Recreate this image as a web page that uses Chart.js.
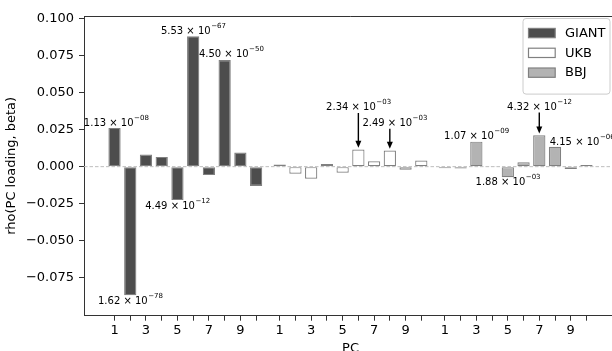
<!DOCTYPE html>
<html>
<head>
<meta charset="utf-8">
<script src="https://cdn.jsdelivr.net/npm/chart.js@4.4.1/dist/chart.umd.min.js"></script>
<style>
  html, body { margin: 0; padding: 0; background: #fff; overflow: hidden; }
  #wrap { width: 612px; height: 351px; overflow: hidden; position: relative; }
  #mycanvas { position: absolute; left: 0; top: 0; }
</style>
</head>
<body>
<div id="wrap"><canvas id="mycanvas" width="640" height="370"></canvas></div>
<script>
var groups = ['GIANT', 'UKB', 'BBJ'];
var pcs = [1, 2, 3, 4, 5, 6, 7, 8, 9, 10];
var pcTickLabels = ['1', '', '3', '', '5', '', '7', '', '9', ''];
var giantRho = [0.0262, -0.0868, 0.0082, 0.0066, -0.0226, 0.0882, -0.0057, 0.0720, 0.0095, -0.0130];
var ukbRho   = [0.0015, -0.0048, -0.0082, 0.0018, -0.0041, 0.0116, 0.0037, 0.0109, -0.0021, 0.0042];
var bbjRho   = [-0.0010, -0.0013, 0.0169, 0.0005, -0.0072, 0.0030, 0.0212, 0.0135, -0.0016, 0.0011];
var yTicks = [-0.075, -0.05, -0.025, 0, 0.025, 0.05, 0.075, 0.1];
var yRange = [-0.1007, 0.1018];
var xRange = [-1.94, 31.94];
var groupGap = 1.5;

// p-values written next to bars: group, PC, mantissa, exponent
var pLabels = [
  ['GIANT', 1, '1.13', '−08'],
  ['GIANT', 2, '1.62', '−78'],
  ['GIANT', 5, '4.49', '−12'],
  ['GIANT', 6, '5.53', '−67'],
  ['GIANT', 8, '4.50', '−50'],
  ['UKB', 6, '2.34', '−03'],
  ['UKB', 8, '2.49', '−03'],
  ['BBJ', 3, '1.07', '−09'],
  ['BBJ', 5, '1.88', '−03'],
  ['BBJ', 7, '4.32', '−12'],
  ['BBJ', 8, '4.15', '−06']
];
// where each label sits relative to its bar end (px)
var pLabelPos = [
  {dx: 1.6, dy: -1.8},
  {dx: 0, dy: 9},
  {dx: 0, dy: 8.4},
  {dx: 0, dy: -2},
  {dx: 6.5, dy: -3.3},
  {dx: 0, dy: -39, arrow: true},
  {dx: 4.8, dy: -24.3, arrow: true},
  {dx: 0, dy: -2.4},
  {dx: 0, dy: 7.7},
  {dx: 0, dy: -25.3, arrow: true},
  {dx: -5.3, dy: -1.7, left: true}
];

var rhoByGroup = [giantRho, ukbRho, bbjRho];
var fills = ['#4d4d4d', '#ffffff', '#b3b3b3'];

// bar position on the x scale: groups are separated by a wider gap
function xPos(g, i) {
  return g * (pcs.length - 1 + groupGap) + i;
}

var tickValues = [];
groups.forEach(function(g, gi) {
  pcs.forEach(function(pc, i) { tickValues.push(xPos(gi, i)); });
});

var datasets = groups.map(function(name, gi) {
  return {
    label: name,
    data: rhoByGroup[gi].map(function(v, i) { return {x: xPos(gi, i), y: v}; }),
    backgroundColor: fills[gi],
    borderColor: '#808080',
    borderWidth: 1.2,
    borderSkipped: false,
    grouped: false,
    barPercentage: 0.78,
    categoryPercentage: 1
  };
});

function drawP(ctx, x, baseline, mant, expo, left) {
  var main = mant + ' × 10';
  ctx.font = '10px "DejaVu Sans"';
  var w1 = ctx.measureText(main).width;
  ctx.font = '7px "DejaVu Sans"';
  var w2 = ctx.measureText(expo).width;
  var x0 = left ? x : x - (w1 + w2) / 2;
  ctx.fillStyle = '#000';
  ctx.textAlign = 'left';
  ctx.textBaseline = 'alphabetic';
  ctx.font = '10px "DejaVu Sans"';
  ctx.fillText(main, x0, baseline);
  ctx.font = '7px "DejaVu Sans"';
  ctx.fillText(expo, x0 + w1 + 0.5, baseline - 6);
}

function drawArrow(ctx, x, y0, y1) {
  ctx.strokeStyle = '#000';
  ctx.fillStyle = '#000';
  ctx.lineWidth = 1.4;
  ctx.beginPath();
  ctx.moveTo(x, y0);
  ctx.lineTo(x, y1 - 6);
  ctx.stroke();
  ctx.beginPath();
  ctx.moveTo(x - 3, y1 - 7);
  ctx.lineTo(x + 3, y1 - 7);
  ctx.lineTo(x, y1);
  ctx.closePath();
  ctx.fill();
}

var extras = {
  id: 'extras',
  afterDatasetsDraw: function(chart) {
    var ctx = chart.ctx, ca = chart.chartArea;
    var y0 = chart.scales.y.getPixelForValue(0);
    ctx.save();
    // zero line
    ctx.strokeStyle = '#bdbdbd';
    ctx.lineWidth = 1;
    ctx.setLineDash([3.5, 2]);
    ctx.beginPath();
    ctx.moveTo(ca.left, y0);
    ctx.lineTo(ca.right, y0);
    ctx.stroke();
    ctx.setLineDash([]);

    // p-value labels
    pLabels.forEach(function(p, k) {
      var pos = pLabelPos[k];
      var bar = chart.getDatasetMeta(groups.indexOf(p[0])).data[p[1] - 1];
      var baseline = bar.y + pos.dy;
      drawP(ctx, bar.x + pos.dx, baseline, p[2], p[3], pos.left);
      if (pos.arrow) drawArrow(ctx, bar.x, baseline + 2.5, bar.y - 1.7);
    });

    // top / right spines
    ctx.strokeStyle = '#333';
    ctx.lineWidth = 1;
    ctx.beginPath();
    ctx.moveTo(ca.left, ca.top + 0.5);
    ctx.lineTo(ca.right + 0.5, ca.top + 0.5);
    ctx.lineTo(ca.right + 0.5, ca.bottom);
    ctx.stroke();

    // legend
    var bw = 87, bh = 75.6;
    var bx = ca.right - 7.5 - bw, by = ca.top + 2;
    ctx.fillStyle = 'rgba(255,255,255,0.8)';
    ctx.strokeStyle = '#cccccc';
    ctx.beginPath();
    ctx.roundRect(bx + 0.5, by + 0.5, bw, bh, 3);
    ctx.fill();
    ctx.stroke();
    ctx.font = '13px "DejaVu Sans"';
    ctx.textBaseline = 'middle';
    ctx.textAlign = 'left';
    chart.data.datasets.forEach(function(ds, i) {
      var cy = by + 15 + i * 19.8;
      ctx.fillStyle = ds.backgroundColor;
      ctx.strokeStyle = ds.borderColor;
      ctx.lineWidth = 1.2;
      ctx.fillRect(bx + 6, cy - 4.6, 26.7, 9.3);
      ctx.strokeRect(bx + 6, cy - 4.6, 26.7, 9.3);
      ctx.fillStyle = '#000';
      ctx.fillText(ds.label, bx + 42.5, cy + 0.5);
    });
    ctx.restore();
  }
};

Chart.defaults.font.family = '"DejaVu Sans"';
Chart.defaults.font.size = 13;
Chart.defaults.color = '#000';

var ctx = document.getElementById('mycanvas');
var barGraph = new Chart(ctx, {
  type: 'bar',
  data: { datasets: datasets },
  options: {
    responsive: false,
    animation: false,
    devicePixelRatio: 1,
    layout: { padding: { left: 0, top: 16, right: 23, bottom: 0 } },
    plugins: { legend: { display: false }, tooltip: { enabled: false } },
    scales: {
      x: {
        type: 'linear',
        offset: false,
        min: xRange[0],
        max: xRange[1],
        afterBuildTicks: function(scale) {
          scale.ticks = tickValues.map(function(v) { return {value: v}; });
        },
        afterFit: function(scale) { scale.height = 370 - 315.7; },
        ticks: {
          autoSkip: false,
          maxRotation: 0,
          padding: 2,
          callback: function(value, index) { return pcTickLabels[index % pcs.length]; }
        },
        grid: { offset: false, drawOnChartArea: false, tickLength: 5, tickColor: '#333' },
        border: { color: '#333', width: 1 },
        title: { display: true, text: 'PC', padding: { top: 0, bottom: 13.4 } }
      },
      y: {
        min: yRange[0],
        max: yRange[1],
        afterBuildTicks: function(scale) {
          scale.ticks = yTicks.map(function(v) { return {value: v}; });
        },
        afterFit: function(scale) { scale.width = 84; },
        ticks: {
          padding: 5,
          callback: function(value) { return value.toFixed(3).replace('-', '−'); }
        },
        grid: { drawOnChartArea: false, tickLength: 5, tickColor: '#333' },
        border: { color: '#333', width: 1 },
        title: { display: true, text: 'rho(PC loading, beta)', padding: { top: 4, bottom: 0 } }
      }
    }
  },
  plugins: [extras]
});
</script>
</body>
</html>
